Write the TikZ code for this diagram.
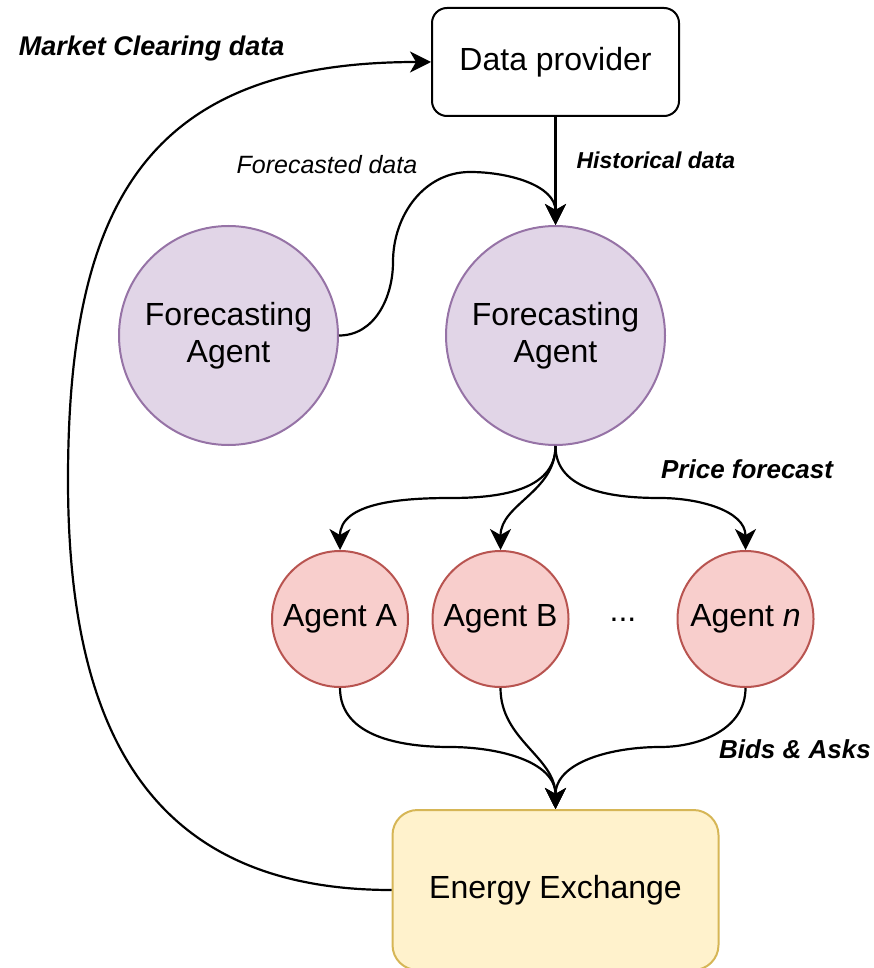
\documentclass[tikz,border=0pt]{standalone}
\usepackage{fontspec}
\setmainfont{Liberation Sans}
\usetikzlibrary{positioning,arrows.meta,calc}

\definecolor{fcfill}{HTML}{E1D5E7}
\definecolor{fcline}{HTML}{9673A6}
\definecolor{agfill}{HTML}{F8CECC}
\definecolor{agline}{HTML}{B85450}
\definecolor{exfill}{HTML}{FFF2CC}
\definecolor{exline}{HTML}{D6B656}

\begin{document}
\begin{tikzpicture}[x=1pt,y=1pt,
    >={Stealth[length=21pt,width=21pt,inset=6pt]},
    every node/.style={font=\fontsize{32}{37}\selectfont},
    box/.style={draw,line width=2pt,rounded corners=15pt,minimum width=247pt,minimum height=108pt},
    forecaster/.style={circle,draw=fcline,fill=fcfill,line width=2pt,minimum size=219pt,inner sep=0pt,align=center},
    trader/.style={circle,draw=agline,fill=agfill,line width=2pt,minimum size=136pt,inner sep=0pt},
    market/.style={draw=exline,fill=exfill,line width=2pt,rounded corners=25pt,minimum width=326pt,minimum height=160pt},
    lbl/.style={font=\fontsize{26}{30}\selectfont\bfseries\itshape,inner sep=0pt},
    flow/.style={line width=2.2pt}]

    \useasboundingbox (0,0) rectangle (873,-968);

    %Noeuds
    \node[box] (provider) at (555.5,-62) {Data provider};
    \node[forecaster, below=108pt of provider] (fcmain) {Forecasting\\Agent};
    \node[forecaster, left=106pt of fcmain] (fcside) {Forecasting\\Agent};

    \node[trader] (agentA) at (340,-619) {Agent A};
    \node[trader] (agentB) at (500.5,-619) {Agent B};
    \node[trader] (agentN) at (745.5,-619) {Agent \textit{n}};
    \node[anchor=base] (dots) at (623,-621) {...};

    \node[market, below=363pt of fcmain] (exchange) {Energy Exchange};

    %Donnees
    \draw[flow,->] (provider) -- node[lbl,pos=0.4,anchor=west,xshift=20pt,font=\fontsize{23}{28}\selectfont\bfseries\itshape]{Historical data} (fcmain);

    \draw[flow,->] (fcside.east) to[out=0,in=-90] (393,-262)
        to[out=90,in=180] node[lbl,pos=0.55,anchor=south east,yshift=20pt,font=\fontsize{25}{30}\selectfont\itshape]{Forecasted data} (470,-172)
        to[out=0,in=90] (fcmain.north);

    %Prevision de prix
    \draw[flow,->] (fcmain.south) to[out=-90,in=0] (450,-498) to[out=180,in=90] (agentA.north);
    \draw[flow,->] (fcmain.south) to[out=-90,in=90] (agentB.north);
    \draw[flow,->] (fcmain.south) to[out=-90,in=180] (660,-498)
        to[out=0,in=90] node[lbl,pos=0,anchor=south west,yshift=18pt]{Price forecast} (agentN.north);

    %Offres
    \draw[flow,->] (agentA.south) to[out=-90,in=180] (450,-747) to[out=0,in=90] (exchange.north);
    \draw[flow,->] (agentB.south) to[out=-90,in=90] (exchange.north);
    \draw[flow,->] (agentN.south) to[out=-90,in=0] node[lbl,pos=0.5,anchor=north west,yshift=-6pt]{Bids \& Asks} (660,-747)
        to[out=180,in=90] (exchange.north);

    %Retour du marche
    \draw[flow,->] (exchange.west) to[out=180,in=-90,looseness=1.2] (68,-480)
        to[out=90,in=180,looseness=1.3] node[lbl,pos=0.8,anchor=south east,yshift=16pt,font=\fontsize{27}{32}\selectfont\bfseries\itshape]{Market Clearing data} (provider.west);

\end{tikzpicture}
\end{document}
